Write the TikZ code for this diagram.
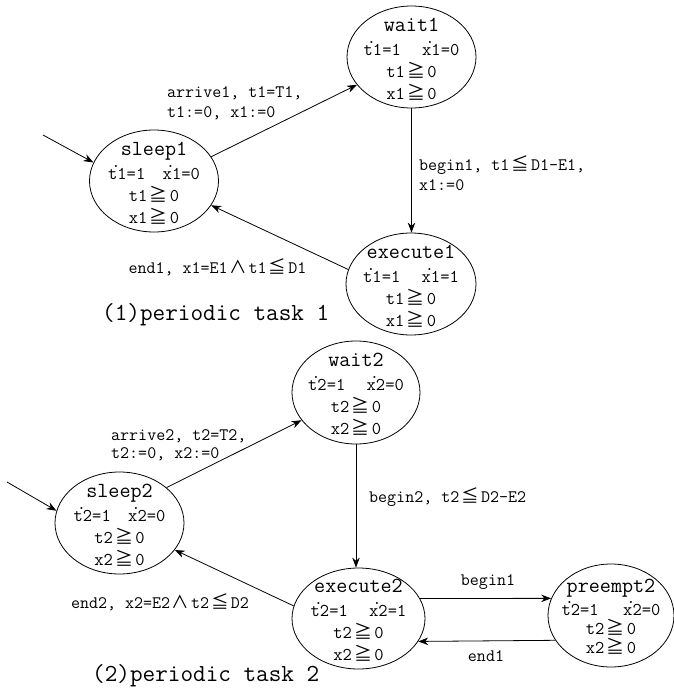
\documentclass[tikz,border=0pt]{standalone}
\usepackage{fontspec}
\newfontfamily\cjk{Noto Sans CJK SC}
\usetikzlibrary{shapes.geometric,arrows.meta}
\newcommand\dotv[1]{#1\llap{\raisebox{0.66em}[0pt][0pt]{.}\kern-0.18em}}
\newcommand\gee{\kern0.12em{\cjk ≧}\kern0.12em}
\newcommand\lee{\kern0.12em{\cjk ≦}\kern0.12em}
\newcommand\andd{\kern0.1em{\cjk ∧}\kern0.1em}
\newcommand\titlef{\fontsize{21.5}{22}\selectfont}
\begin{document}
\begin{tikzpicture}[x=1pt,y=-1pt,
  state/.style={draw,ellipse,line width=0.8pt,inner sep=0pt,minimum width=129pt,minimum height=102pt},
  stext/.style={inner sep=0pt,align=center,font=\ttfamily\fontsize{18}{22}\selectfont},
  tr/.style={draw,line width=0.8pt,-{Stealth[length=10pt,width=7.5pt]}},
  lab/.style={font=\ttfamily\fontsize{17.5}{20}\selectfont,inner sep=0pt,align=left},
  captxt/.style={font=\ttfamily\fontsize{24.5}{26}\selectfont,inner sep=0pt,anchor=west}]
\path[use as bounding box] (0,0) rectangle (673,688);

% task 1
\node[state] (s1) at (154,181) {};
\node[stext] (s1t) at ([yshift=-2pt]s1.center) {{\titlef sleep1}\\[2pt]\dotv{t}1=1\hspace{0.97em}\dotv{x}1=0\\t1\gee0\\x1\gee0};
\node[state] (w1) at (411.5,57) {};
\node[stext] (w1t) at ([yshift=-2pt]w1.center) {{\titlef wait1}\\[2pt]\dotv{t}1=1\hspace{1.19em}\dotv{x}1=0\\t1\gee0\\x1\gee0};
\node[state,minimum width=130pt] (e1) at (411,284) {};
\node[stext] (e1t) at ([yshift=-2pt]e1.center) {{\titlef execute1}\\[2pt]\dotv{t}1=1\hspace{1.19em}\dotv{x}1=1\\t1\gee0\\x1\gee0};

\coordinate (i1) at (43,135);
\draw[tr] (i1) -- (s1.163.8);
\draw[tr] (s1.23.7) -- (w1.207.6);
\draw[tr] (w1.south) -- (w1.south |- e1.north);
\draw[tr] (e1.167.5) -- (s1.337);

\node[lab,anchor=west] (la1) at (167,103) {arrive1, t1=T1,\\t1:=0, x1:=0};
\node[lab,anchor=west] (lb1) at (419,173) {begin1, t1\lee D1-E1,\\x1:=0};
\node[lab] (le1) at (217.5,267) {end1, x1=E1\andd t1\lee D1};
\node[captxt] (c1) at (102,315) {(1)periodic task 1};

% task 2
\node[state] (s2) at (119.5,523) {};
\node[stext] (s2t) at ([yshift=-2pt]s2.center) {{\titlef sleep2}\\[2pt]\dotv{t}2=1\hspace{0.97em}\dotv{x}2=0\\t2\gee0\\x2\gee0};
\node[state,minimum width=128pt,minimum height=103pt] (w2) at (356,392.5) {};
\node[stext] (w2t) at ([yshift=-2pt]w2.center) {{\titlef wait2}\\[2pt]\dotv{t}2=1\hspace{1.19em}\dotv{x}2=0\\t2\gee0\\x2\gee0};
\node[state,minimum width=133pt,minimum height=101pt] (e2) at (358.5,618.5) {};
\node[stext] (e2t) at ([yshift=-2pt]e2.center) {{\titlef execute2}\\[2pt]\dotv{t}2=1\hspace{1.19em}\dotv{x}2=1\\t2\gee0\\x2\gee0};
\node[state,minimum width=126pt,minimum height=103pt] (p2) at (611,615.5) {};
\node[stext,font=\ttfamily\fontsize{18}{19}\selectfont] (p2t) at ([yshift=-1pt]p2.center) {{\titlef preempt2}\\[4pt]\dotv{t}2=1\hspace{1.36em}\dotv{x}2=0\\t2\gee0\\x2\gee0};

\coordinate (i2) at (7,482);
\draw[tr] (i2) -- (s2.169.5);
\draw[tr] (s2.37) -- (w2.207.8);
\draw[tr] (w2.south) -- (w2.south |- e2.north);
\draw[tr] (e2.169.4) -- (s2.334.8);
\draw[tr] (e2.18.7) -- (p2.164);
\draw[tr] (p2.204.9) -- (e2.339.6);

\node[lab,anchor=west,font=\ttfamily\fontsize{17.5}{18}\selectfont] (la2) at (111,445) {arrive2, t2=T2,\\t2:=0, x2:=0};
\node[lab,anchor=west] (lb2) at (369,497) {begin2, t2\lee D2-E2};
\node[lab] (le2) at (160,602) {end2, x2=E2\andd t2\lee D2};
\node[lab] (lb12) at (488,582) {begin1};
\node[lab] (le12) at (486,656) {end1};
\node[captxt] (c2) at (92,676) {(2)periodic task 2};
\end{tikzpicture}
\end{document}
